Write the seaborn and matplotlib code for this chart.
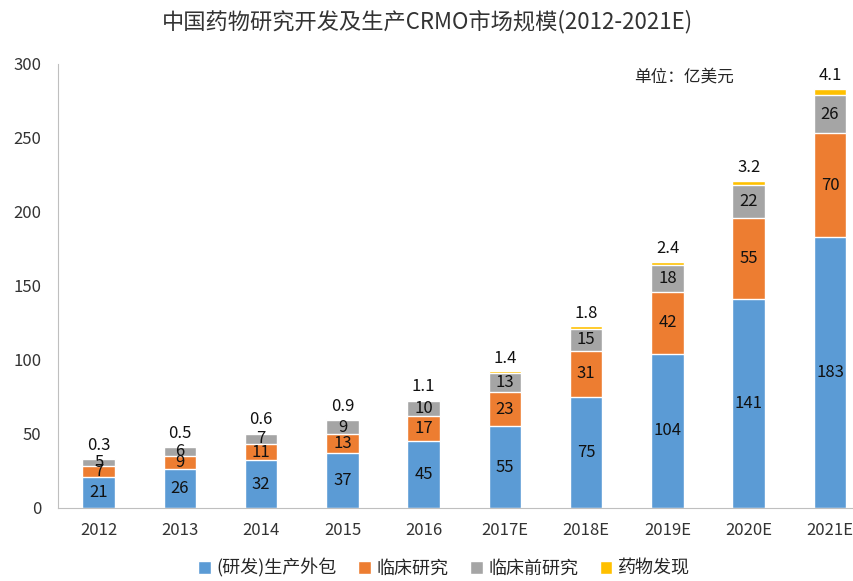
import numpy as np
import pandas as pd
import seaborn as sns
import matplotlib.pyplot as plt

years = ['2012', '2013', '2014', '2015', '2016', '2017E', '2018E', '2019E', '2020E', '2021E']
outsourcing = [21, 26, 32, 37, 45, 55, 75, 104, 141, 183]
clinical = [7, 9, 11, 13, 17, 23, 31, 42, 55, 70]
preclinical = [5, 6, 7, 9, 10, 13, 15, 18, 22, 26]
discovery = [0.3, 0.5, 0.6, 0.9, 1.1, 1.4, 1.8, 2.4, 3.2, 4.1]

names = ['(研发)生产外包', '临床研究', '临床前研究', '药物发现']
colors = ['#5B9BD5', '#ED7D31', '#A5A5A5', '#FFC000']

sns.set_style('white')
plt.rcParams['font.family'] = ['Noto Sans CJK SC', 'DejaVu Sans']

series = [outsourcing, clinical, preclinical, discovery]
cum = np.cumsum(np.array(series, dtype=float), axis=0)
df = pd.DataFrame({'year': years})
for k in range(4):
    df[names[k]] = cum[k]

fig = plt.figure(figsize=(8.54, 5.81), dpi=100)
ax = fig.add_axes([0.068, 0.126, 0.94, 0.764])

# stack by overlaying cumulative totals, top layer first
for k in range(3, -1, -1):
    sns.barplot(data=df, x='year', y=names[k], order=years, color=colors[k],
                width=0.4, saturation=1, label=names[k], ax=ax)
handles, labels = ax.get_legend_handles_labels()
if ax.get_legend() is not None:
    ax.get_legend().remove()

# segment labels
for k in range(3):
    for i, v in enumerate(series[k]):
        bottom = cum[k - 1][i] if k > 0 else 0
        ax.text(i, bottom + v / 2, f'{v:g}', ha='center', va='center', fontsize=12, color='#111111')
for i, v in enumerate(discovery):
    ax.text(i, cum[3][i] + 3, f'{v:g}', ha='center', va='bottom', fontsize=12, color='#111111')

ax.set_ylim(0, 300)
ax.set_xlim(-0.5, 9.38)
ax.set_yticks(range(0, 301, 50))
ax.set_xlabel('')
ax.set_ylabel('')
ax.tick_params(axis='both', labelsize=12, colors='#333333')
ax.tick_params(axis='y', length=4, color='#BFBFBF', pad=8)
ax.tick_params(axis='x', length=0, pad=10)
for s in ['top', 'right']:
    ax.spines[s].set_visible(False)
for s in ['left', 'bottom']:
    ax.spines[s].set_color('#BFBFBF')

ax.text(0.78, 0.97, '单位：亿美元', transform=ax.transAxes, ha='center', va='center', fontsize=12)
fig.text(0.5, 0.962, '中国药物研究开发及生产CRMO市场规模(2012-2021E)', ha='center', va='center',
         fontsize=16, color='#333333')

order = [labels.index(n) for n in names]
fig.legend([handles[j] for j in order], names, loc='center', bbox_to_anchor=(0.52, 0.022),
           ncol=4, frameon=False, fontsize=13, handlelength=0.7, handleheight=0.7,
           handletextpad=0.3, columnspacing=1.2)

fig.savefig('out.png', dpi=100)
